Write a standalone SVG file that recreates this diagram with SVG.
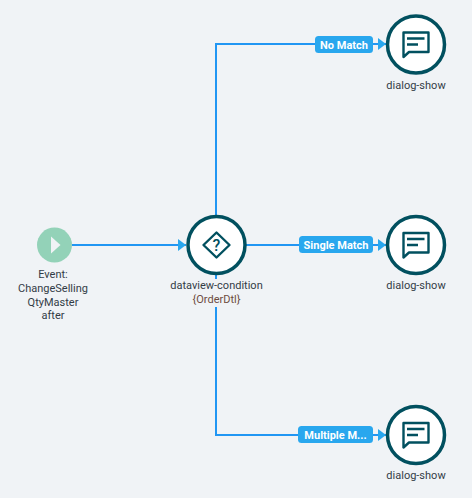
<svg xmlns="http://www.w3.org/2000/svg" width="472" height="498" viewBox="0 0 472 498">
<style>
text{font-family:Roboto,"Liberation Sans",sans-serif;font-size:11px;fill:#333c46;text-anchor:middle}
.sub{fill:#6d4c41}
.lab{font-size:11px;font-weight:700;fill:#fff}
.pill{fill:#29a7ee}
.wire{fill:none;stroke:#2196f3;stroke-width:2}
.ring{fill:#fff;stroke:#01505f;stroke-width:3.5}
.ico{fill:none;stroke:#01505f;stroke-width:2.400;stroke-linejoin:round}
.bar{fill:none;stroke:#01505f;stroke-width:2.400}
</style>
<defs>
<marker id="arrow" markerUnits="userSpaceOnUse" markerWidth="9" markerHeight="14" refX="8" refY="7" orient="auto"><path d="M0 1L8 7L0 13Z" fill="#29a7ee"/></marker>
<g id="chat"><path class="ico" d="M-12.500-11.500H12.500V8H-7L-12.500 13Z"/><path class="bar" d="M-9-5.500H8.500M-9 0.500H2"/></g>
</defs>
<rect width="472" height="498" fill="#f0f3f6"/>
<g id="connectors">
<path class="wire" d="M72 245H186" marker-end="url(#arrow)"/>
<path class="wire" d="M216 215V44H386" marker-end="url(#arrow)"/>
<path class="wire" d="M246 245H386" marker-end="url(#arrow)"/>
<path class="wire" d="M216 275V435H386" marker-end="url(#arrow)"/>
<g id="edge-labels">
<rect class="pill" x="315" y="36" width="58" height="17" rx="3.500"/><text class="lab" x="344" y="48.500">No Match</text>
<rect class="pill" x="299" y="236" width="74" height="17" rx="3.500"/><text class="lab" x="336" y="248.500">Single Match</text>
<rect class="pill" x="298" y="426" width="75" height="17" rx="3.500"/><text class="lab" x="335.500" y="438.500">Multiple M...</text>
</g>
</g>
<g id="event">
<circle cx="54.500" cy="245" r="17.500" fill="#93d2b8"/>
<path d="M51 236.500L60.500 245L51 253.500Z" fill="#f0f3f6"/>
<text x="53" y="278">Event:</text>
<text x="53" y="292">ChangeSelling</text>
<text x="53" y="306">QtyMaster</text>
<text x="53" y="319">after</text>
</g>
<g id="condition">
<rect x="170" y="279" width="94" height="28" fill="#f0f3f6"/>
<circle class="ring" cx="216.500" cy="245" r="28.500"/>
<path d="M216.500 232.500L229.500 245L216.500 257.500L203.500 245Z" fill="none" stroke="#01505f" stroke-width="2.400" stroke-linejoin="round"/>
<text x="216.500" y="251" style="font-size:16px;font-weight:500;fill:#01505f">?</text>
<text x="216.500" y="289">dataview-condition</text>
<text class="sub" x="216.500" y="303">{OrderDtl}</text>
</g>
<g id="dialog-1">
<circle class="ring" cx="416" cy="44.500" r="28.500"/>
<use href="#chat" x="416" y="44"/>
<text x="416" y="89">dialog-show</text>
</g>
<g id="dialog-2">
<circle class="ring" cx="416" cy="245" r="28.500"/>
<use href="#chat" x="416" y="244.500"/>
<text x="416" y="289">dialog-show</text>
</g>
<g id="dialog-3">
<circle class="ring" cx="416" cy="435" r="28.500"/>
<use href="#chat" x="416" y="434.500"/>
<text x="416" y="479">dialog-show</text>
</g>
</svg>
